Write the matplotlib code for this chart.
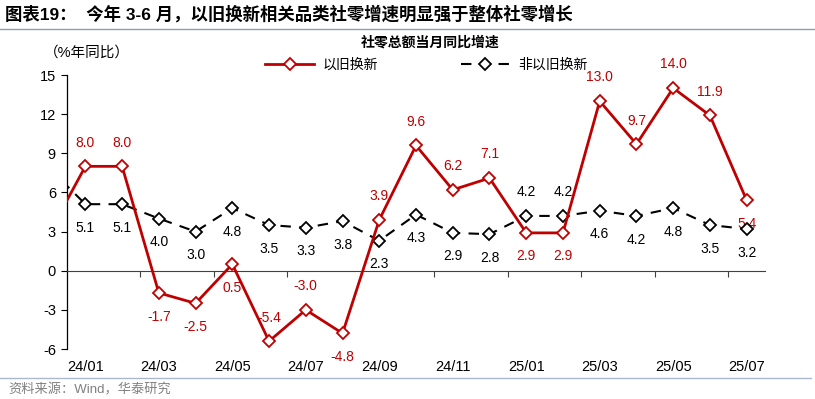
import matplotlib
matplotlib.use("Agg")
import matplotlib.pyplot as plt
from matplotlib.lines import Line2D
from matplotlib.transforms import blended_transform_factory

plt.rcParams["font.family"] = ["Liberation Sans", "Noto Sans CJK SC"]
plt.rcParams["axes.unicode_minus"] = False

# data (23/12 lies just left of the visible range, only its segment shows)
months = ["23/12", "24/01", "24/02", "24/03", "24/04", "24/05", "24/06", "24/07",
          "24/08", "24/09", "24/10", "24/11", "24/12", "25/01", "25/02", "25/03",
          "25/04", "25/05", "25/06", "25/07"]
trade_in = [2.8, 8.0, 8.0, -1.7, -2.5, 0.5, -5.4, -3.0, -4.8, 3.9, 9.6, 6.2, 7.1,
            2.9, 2.9, 13.0, 9.7, 14.0, 11.9, 5.4]
non_trade_in = [7.9, 5.1, 5.1, 4.0, 3.0, 4.8, 3.5, 3.3, 3.8, 2.3, 4.3, 2.9, 2.8,
                4.2, 4.2, 4.6, 4.2, 4.8, 3.5, 3.2]
y_ticks = [-6, -3, 0, 3, 6, 9, 12, 15]
series_names = ["以旧换新", "非以旧换新"]

# label side per point: u = above, d = below (first point is not shown)
red_side = ["-", "u", "u", "d", "d", "d", "u", "u", "d", "u",
            "u", "u", "u", "d", "d", "u", "u", "u", "u", "d"]
blk_side = ["-", "d", "d", "d", "d", "d", "d", "d", "d", "d",
            "d", "d", "d", "u", "u", "d", "d", "d", "d", "d"]

RED = "#C00000"
BLK = "#000000"

fig = plt.figure(figsize=(8.15, 3.99), dpi=100)
ax = fig.add_axes([0.0822, 0.1253, 0.8565, 0.6867])
x = list(range(len(months)))

ax.plot(x, trade_in, color=RED, lw=2.0, marker="D", ms=6.3, mfc="white",
        mec=RED, mew=1.3, zorder=4, label=series_names[0])
ax.plot(x, non_trade_in, color=BLK, lw=1.5, ls=(0, (5, 4)), marker="D", ms=6.3,
        mfc="white", mec=BLK, mew=1.3, zorder=3, label=series_names[1])

for i in range(1, len(months)):
    dy = 17 if red_side[i] == "u" else -17
    ax.annotate(f"{trade_in[i]:.1f}", (i, trade_in[i]), xytext=(0, dy),
                textcoords="offset points", ha="center", va="center",
                fontsize=10, color=RED, zorder=2)
    dy = 17 if blk_side[i] == "u" else -17
    ax.annotate(f"{non_trade_in[i]:.1f}", (i, non_trade_in[i]), xytext=(0, dy),
                textcoords="offset points", ha="center", va="center",
                fontsize=10, color=BLK, zorder=2)

ax.set_xlim(0.5, len(months) - 0.5)
ax.set_ylim(-6, 15)
ax.set_yticks(y_ticks)
ax.tick_params(axis="y", direction="out", length=4, width=0.8, labelsize=10.5, pad=4)
ax.spines["top"].set_visible(False)
ax.spines["right"].set_visible(False)
ax.spines["bottom"].set_position(("data", 0))
ax.spines["bottom"].set_color("#404040")
ax.spines["left"].set_linewidth(0.9)
ax.set_xticks([i + 0.5 for i in range(2, len(months) - 1, 2)])
ax.set_xticklabels([])
ax.tick_params(axis="x", direction="out", length=4, width=0.8, color="#404040")

trans = blended_transform_factory(ax.transData, ax.transAxes)
for i in range(1, len(months), 2):
    ax.text(i, -0.066, months[i], transform=trans, ha="center", va="center",
            fontsize=10.5)

fig.legend(loc="center", bbox_to_anchor=(0.523, 1 - 65 / 399), ncol=2,
           frameon=False, fontsize=10, handlelength=3.5, columnspacing=6.0,
           handletextpad=0.6)

fig.text(0.006, 1 - 14 / 399, "图表19：  今年 3-6 月，以旧换新相关品类社零增速明显强于整体社零增长",
         fontsize=12.5, fontweight="bold", va="center", ha="left")
fig.add_artist(Line2D([0, 1], [1 - 29 / 399] * 2, color="#8C9DB5", lw=1))
fig.text(430 / 815, 1 - 43 / 399, "社零总额当月同比增速", fontsize=10,
         fontweight="bold", ha="center", va="center")
fig.text(44 / 815, 1 - 53 / 399, "（%年同比）", fontsize=10.5, ha="left", va="center")
fig.add_artist(Line2D([0, 0.995], [1 - 378 / 399] * 2, color="#A9B8CC", lw=1))
fig.text(8 / 815, 1 - 390 / 399, "资料来源：Wind，华泰研究", fontsize=9.5,
         color="#808080", ha="left", va="center")

fig.savefig("out.png", dpi=100)
